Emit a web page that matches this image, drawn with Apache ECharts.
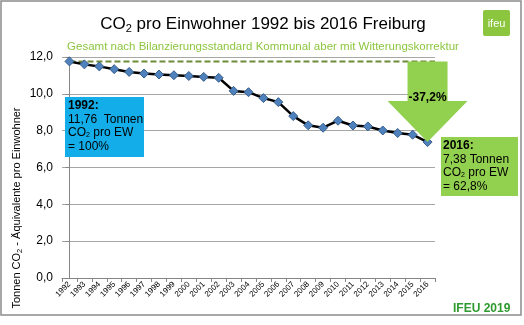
<!DOCTYPE html>
<html>
<head>
<meta charset="utf-8">
<script src="https://cdn.jsdelivr.net/npm/echarts@6/dist/echarts.min.js"></script>
<style>
  html, body { margin: 0; padding: 0; background: #fff; }
  #chart { width: 524px; height: 325px; }
</style>
</head>
<body>
<div id="chart"></div>
<script>
// Per-capita CO2 emissions, Freiburg, 1992–2016 (t CO2-eq per inhabitant)
const years = ['1992','1993','1994','1995','1996','1997','1998','1999','2000','2001','2002','2003','2004',
               '2005','2006','2007','2008','2009','2010','2011','2012','2013','2014','2015','2016'];
const co2PerCapita = [11.76, 11.60, 11.49, 11.34, 11.19, 11.10, 11.05, 11.01, 10.97, 10.92, 10.87, 10.16, 10.09,
                      9.77, 9.55, 8.79, 8.29, 8.16, 8.54, 8.28, 8.23, 8.01, 7.87, 7.78, 7.38];
const baseValue = 11.76;      // 1992 reference level
const finalValue = 7.38;      // 2016 level
const changeLabel = '-37,2%';
const yTicks = { min: 0, max: 12, interval: 2 };

const GREEN = '#92d050';
const FONT = 'Liberation Sans, Arial, sans-serif';

const chart = echarts.init(document.getElementById('chart'), null, { renderer: 'canvas' });

const fmt = v => v.toFixed(1).replace('.', ',');

const option = {
  animation: false,
  backgroundColor: '#fff',
  textStyle: { fontFamily: FONT },
  title: [{
    text: '{a|CO}{s|2}{a| pro Einwohner 1992 bis 2016 Freiburg}',
    left: 258, textAlign: 'center', top: 10,
    textStyle: {
      rich: {
        a: { fontSize: 17, color: '#000', fontFamily: FONT, fontWeight: 'normal' },
        s: { fontSize: 11, color: '#000', fontFamily: FONT, fontWeight: 'normal', padding: [8, 0, 0, 0] }
      }
    }
  }, {
    text: 'Gesamt nach Bilanzierungsstandard Kommunal aber mit Witterungskorrektur',
    left: 258, textAlign: 'center', top: 36,
    textStyle: { fontSize: 11.5, color: '#8cc63e', fontWeight: 'normal', fontFamily: FONT }
  }],
  grid: { left: 62, right: 89, top: 57, bottom: 47 },
  xAxis: [{
    type: 'category',
    data: years,
    boundaryGap: true,
    axisLine: { lineStyle: { color: '#868686', width: 1 } },
    axisTick: { show: true, length: 4, lineStyle: { color: '#868686' } },
    axisLabel: { rotate: 45, fontSize: 8, color: '#000', margin: 5, interval: 0, fontFamily: FONT }
  }, {
    type: 'value', show: false, min: -0.5, max: years.length - 0.5
  }],
  yAxis: {
    type: 'value',
    min: yTicks.min, max: yTicks.max, interval: yTicks.interval,
    axisLine: { show: true, lineStyle: { color: '#868686' } },
    axisTick: { show: true, length: 4, lineStyle: { color: '#868686' } },
    axisLabel: { formatter: fmt, fontSize: 12, color: '#000', margin: 9, fontFamily: FONT },
    splitLine: { lineStyle: { color: '#a6a6a6', width: 1 } }
  },
  series: [{
    // reference level of 1992 carried across the plot
    type: 'line',
    xAxisIndex: 1,
    data: [[0, baseValue], [years.length - 0.5, baseValue]],
    symbol: 'none',
    lineStyle: { color: '#6f8a38', width: 2, type: [6, 3] },
    z: 2
  }, {
    type: 'line',
    data: co2PerCapita,
    symbol: 'diamond',
    symbolSize: 9,
    itemStyle: { color: '#4f81bd', borderColor: '#385d8a', borderWidth: 1 },
    lineStyle: { color: '#000', width: 2.5 },
    z: 3
  }]
};
chart.setOption(option);

// annotation graphics anchored to the data values
const arrowTop = chart.convertToPixel({ xAxisIndex: 0, yAxisIndex: 0 }, [years.length - 1, baseValue]);
const arrowTip = chart.convertToPixel({ xAxisIndex: 0, yAxisIndex: 0 }, [years.length - 1, finalValue]);
const shaftHalf = 20, headHalf = 40, headH = 41;
const tx = arrowTip[0];

const boxText = (x, y, head, lines) => ({
  type: 'text', left: x, top: y, z: 20,
  style: {
    text: '{b|' + head + '}\n' + lines.join('\n'),
    fill: '#000',
    rich: {
      b: { fontWeight: 'bold', fontSize: 12, fontFamily: FONT, lineHeight: 13.5, fill: '#000' },
      n: { fontSize: 12, fontFamily: FONT, lineHeight: 13.5, fill: '#000' },
      s: { fontSize: 7, fontFamily: FONT, lineHeight: 13.5, fill: '#000', padding: [4, 0, 0, 0] }
    }
  }
});

chart.setOption({
  graphic: [
    // outer frame
    { type: 'rect', shape: { x: 1, y: 1, width: 520, height: 314 }, style: { fill: null, stroke: '#8c8c8c', lineWidth: 1.5 }, z: 0, silent: true },
    // ifeu badge
    { type: 'rect', shape: { x: 483, y: 10, width: 27, height: 26, r: 2 }, style: { fill: '#8cc63e' }, z: 10 },
    { type: 'text', x: 496.5, y: 24, z: 11, style: { text: 'ifeu', fill: '#fff', font: '11px ' + FONT, align: 'center', verticalAlign: 'middle' } },
    // y-axis name
    { type: 'text', x: 17, y: 208, rotation: Math.PI / 2, z: 10,
      style: { text: '{n|Tonnen CO}{s|2}{n| - Äquivalente pro Einwohner}', align: 'center', verticalAlign: 'middle',
        rich: { n: { fontSize: 11, fontFamily: FONT, fill: '#000' }, s: { fontSize: 7.5, fontFamily: FONT, fill: '#000', padding: [5, 0, 0, 0] } } } },
    // arrow showing the reduction
    { type: 'polygon', z: 5,
      shape: { points: [
        [tx - shaftHalf, arrowTop[1]], [tx + shaftHalf, arrowTop[1]], [tx + shaftHalf, arrowTip[1] - headH],
        [tx + headHalf, arrowTip[1] - headH], [tx, arrowTip[1]], [tx - headHalf, arrowTip[1] - headH],
        [tx - shaftHalf, arrowTip[1] - headH]
      ] },
      style: { fill: GREEN } },
    { type: 'text', x: tx, y: arrowTip[1] - headH - 3, z: 12,
      style: { text: changeLabel, align: 'center', verticalAlign: 'middle', fill: '#000', font: 'bold 12px ' + FONT } },
    // 1992 info box
    { type: 'rect', shape: { x: 65, y: 97, width: 79, height: 60 }, style: { fill: '#13aeea' }, z: 15 },
    boxText(68, 100, '1992:', ['{n|11,76  Tonnen}', '{n|CO}{s|2}{n| pro EW}', '{n|= 100%}']),
    // 2016 info box
    { type: 'rect', shape: { x: 441, y: 137, width: 77, height: 59 }, style: { fill: GREEN }, z: 15 },
    boxText(443, 140, '2016:', ['{n|7,38 Tonnen}', '{n|CO}{s|2}{n| pro EW}', '{n|= 62,8%}']),
    // source
    { type: 'text', left: 453, top: 303, z: 10, style: { text: 'IFEU 2019', fill: '#2f9a2f', font: 'bold 12px ' + FONT } }
  ]
});
</script>
</body>
</html>
